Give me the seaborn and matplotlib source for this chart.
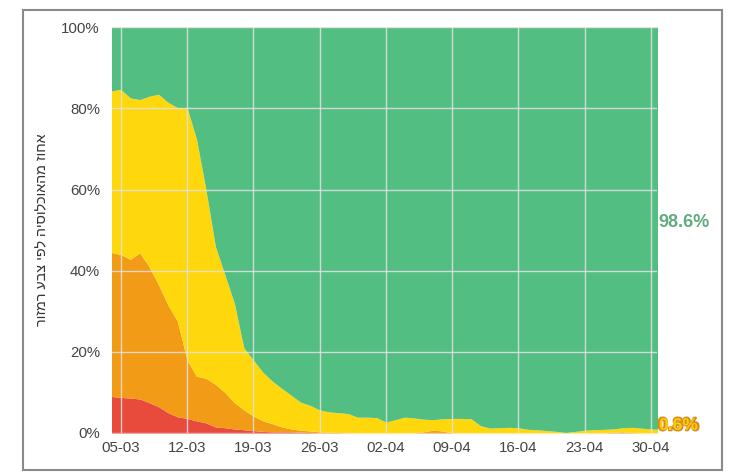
import numpy as np
import pandas as pd
import matplotlib
matplotlib.use("Agg")
import matplotlib.pyplot as plt
import matplotlib.dates as mdates
import matplotlib.patheffects as pe
import seaborn as sns

# ---- data (percent of population, cumulative boundaries) ----
start_date = "2020-03-04"
red = [9.0, 8.8, 8.6, 8.4, 7.5, 6.5, 5.0, 4.0, 3.6, 3.0, 2.5, 1.5, 1.3, 1.0, 0.8,
       0.6, 0.4, 0.3, 0.3, 0.3, 0.2, 0.1, 0.0, 0.0, 0.0, 0.0, 0.0, 0.0, 0.0, 0.0,
       0.0, 0.0, 0.0, 0.0, 0.0, 0.0, 0.0, 0.0, 0.0, 0.0, 0.0, 0.0, 0.0, 0.0, 0.0,
       0.0, 0.0, 0.0, 0.0, 0.0, 0.0, 0.0, 0.0, 0.0, 0.0, 0.0, 0.0, 0.0, 0.0]
orange_cum = [44.5, 44.0, 42.8, 44.4, 41.0, 36.5, 31.5, 27.5, 18.0, 14.0, 13.5, 12.0,
              10.0, 7.5, 5.7, 4.2, 3.0, 2.3, 1.5, 1.0, 0.7, 0.5, 0.3, 0.2, 0.1, 0.0,
              0.0, 0.0, 0.0, 0.0, 0.0, 0.0, 0.0, 0.3, 0.7, 0.5, 0.0, 0.0, 0.0, 0.0,
              0.0, 0.0, 0.0, 0.0, 0.0, 0.0, 0.0, 0.0, 0.0, 0.0, 0.0, 0.0, 0.0, 0.2,
              0.3, 0.1, 0.0, 0.0, 0.0]
yellow_cum = [84.3, 84.7, 82.6, 82.2, 83.0, 83.5, 81.5, 80.2, 80.2, 72.5, 60.0, 46.0,
              39.0, 32.0, 21.0, 18.0, 15.0, 12.8, 11.0, 9.3, 7.6, 6.8, 5.7, 5.2, 5.0,
              4.8, 3.9, 3.9, 3.8, 2.7, 3.3, 3.9, 3.7, 3.4, 3.3, 3.5, 3.6, 3.6, 3.5,
              1.8, 1.2, 1.3, 1.4, 1.3, 0.9, 0.8, 0.6, 0.4, 0.1, 0.4, 0.7, 0.8, 0.9,
              1.0, 1.3, 1.4, 1.2, 1.0, 0.9]
end_labels = ["98.6%", "0.8%", "0.6%"]
ylabel_text = "אחוז מהאוכלוסיה לפי צבע רמזור"

dates = pd.date_range(start_date, periods=len(red), freq="D")
df = pd.DataFrame({"date": dates, "red": red, "orange": orange_cum,
                   "yellow": yellow_cum, "top": 100.0})

C_GREEN = "#53be81"
C_YELLOW = "#fed80c"
C_ORANGE = "#f29b16"
C_RED = "#e84b3c"

sns.set_theme(style="white")
plt.rcParams["font.family"] = ["Liberation Sans", "DejaVu Sans"]

fig = plt.figure(figsize=(7.31, 4.76), dpi=100)
ax = fig.add_axes([111.7 / 731, 1 - 433 / 476, (656.7 - 111.7) / 731, (433 - 27.3) / 476])

for col in ["red", "orange", "yellow", "top"]:
    sns.lineplot(data=df, x="date", y=col, ax=ax, linewidth=0, legend=False)

ax.fill_between(df["date"], 0, df["red"], color=C_RED, linewidth=0, zorder=2)
ax.fill_between(df["date"], df["red"], df["orange"], color=C_ORANGE, linewidth=0, zorder=2)
ax.fill_between(df["date"], df["orange"], df["yellow"], color=C_YELLOW, linewidth=0, zorder=2)
ax.fill_between(df["date"], df["yellow"], df["top"], color=C_GREEN, linewidth=0, zorder=2)

x0 = pd.Timestamp("2020-03-05") - pd.Timedelta(days=0.95)
x1 = pd.Timestamp("2020-04-30") + pd.Timedelta(days=0.6)
ax.set_xlim(x0, x1)
ax.set_ylim(0, 100)

ticks = pd.date_range("2020-03-05", "2020-04-30", freq="7D")
ax.set_xticks(ticks)
ax.xaxis.set_major_formatter(mdates.DateFormatter("%d-%m"))
ax.set_yticks([0, 20, 40, 60, 80, 100])
ax.set_yticklabels([f"{v}%" for v in [0, 20, 40, 60, 80, 100]])

ax.grid(True, color="#e2e2e2", linewidth=1.0, alpha=0.85, zorder=3)
ax.set_axisbelow(False)
for s in ax.spines.values():
    s.set_visible(False)
ax.tick_params(axis="both", length=0, labelsize=10.8, colors="#444444")
ax.tick_params(axis="y", pad=8.5)
ax.tick_params(axis="x", pad=6)
ax.set_xlabel("")
ax.set_ylabel("")

# end labels
ax.text(1.003, 0.52, end_labels[0], transform=ax.transAxes, ha="left", va="center",
        fontsize=13, fontweight="bold", color="#62ab80")
ax.text(1.002, 0.018, end_labels[1], transform=ax.transAxes, ha="left", va="center",
        fontsize=13, fontweight="bold", color="#e0901a",
        path_effects=[pe.withStroke(linewidth=1.6, foreground="#d68a1c")])
ax.text(1.003, 0.019, end_labels[2], transform=ax.transAxes, ha="left", va="center",
        fontsize=12.6, fontweight="bold", color="#f8cf10")

# y label (Hebrew, visual order)
fig.text(42.5 / 731, 1 - 230 / 476, ylabel_text[::-1], rotation=90, ha="center",
         va="center", fontsize=10.3, color="#333333")

# outer frame
frame = plt.Rectangle((23 / 731, 1 - 470 / 476), (722 - 23) / 731, (470 - 10) / 476,
                      transform=fig.transFigure, fill=False, edgecolor="#8a8a8a",
                      linewidth=1.5)
fig.patches.append(frame)

fig.savefig("out.png", dpi=100)
